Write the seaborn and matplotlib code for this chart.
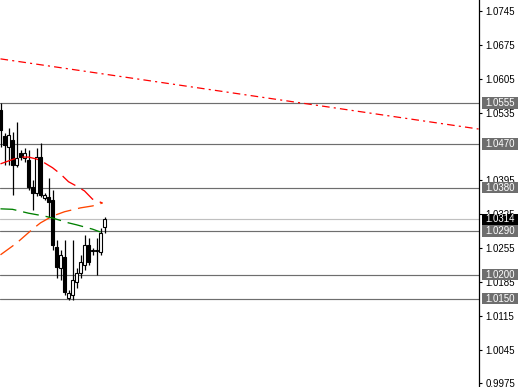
import matplotlib
matplotlib.use("Agg")
import matplotlib.pyplot as plt
import matplotlib.transforms as mtransforms
from matplotlib.patches import Rectangle
import numpy as np
import pandas as pd
import seaborn as sns

# ---------------- data ----------------
opens  = [1.0540, 1.0487, 1.0464, 1.0478, 1.0427, 1.0451, 1.0441, 1.0437, 1.0381, 1.0369,
          1.0443, 1.0358, 1.0361, 1.0354, 1.0257, 1.0214, 1.0237, 1.0152, 1.0158, 1.0185,
          1.0203, 1.0220, 1.0261, 1.0249, 1.0249, 1.0247, 1.0298]
highs  = [1.0555, 1.0493, 1.0503, 1.0495, 1.0516, 1.0458, 1.0462, 1.0458, 1.0396, 1.0462,
          1.0472, 1.0369, 1.0400, 1.0375, 1.0272, 1.0251, 1.0272, 1.0168, 1.0272, 1.0214,
          1.0241, 1.0282, 1.0276, 1.0255, 1.0276, 1.0296, 1.0319]
lows   = [1.0464, 1.0427, 1.0427, 1.0365, 1.0423, 1.0437, 1.0433, 1.0375, 1.0334, 1.0363,
          1.0361, 1.0354, 1.0319, 1.0251, 1.0193, 1.0189, 1.0158, 1.0148, 1.0148, 1.0172,
          1.0193, 1.0210, 1.0220, 1.0241, 1.0199, 1.0241, 1.0286]
closes = [1.0499, 1.0468, 1.0489, 1.0427, 1.0441, 1.0443, 1.0451, 1.0381, 1.0369, 1.0443,
          1.0365, 1.0365, 1.0350, 1.0261, 1.0216, 1.0241, 1.0164, 1.0162, 1.0189, 1.0203,
          1.0226, 1.0261, 1.0226, 1.0250, 1.0251, 1.0286, 1.0314]

red_x   = [0, 2, 4, 5, 7, 9, 11, 13, 15, 17, 19, 21, 23, 25.5]
red_y   = [1.0429, 1.0435, 1.0441, 1.0443, 1.0443, 1.0439, 1.0431, 1.0421, 1.0408,
           1.0392, 1.0383, 1.0373, 1.0356, 1.0348]
orange_x = [0, 4, 8, 10, 13, 16, 20, 23, 25.5]
orange_y = [1.0241, 1.0265, 1.0294, 1.0307, 1.0321, 1.0330, 1.0338, 1.0342, 1.0348]
green_x = [0, 3, 7, 11, 13, 17, 19, 23, 25]
green_y = [1.0336, 1.0335, 1.0327, 1.0321, 1.0317, 1.0307, 1.0303, 1.0294, 1.0288]

trend_x = [0, 119.5]
trend_y = [1.0646, 1.0501]

level_vals   = [1.0555, 1.0470, 1.0380, 1.0290, 1.0200, 1.0150]
level_labels = ["1.0555", "1.0470", "1.0380", "1.0290", "1.0200", "1.0150"]
current_price = 1.0314
current_label = "1.0314"

tick_vals   = [1.0745, 1.0675, 1.0605, 1.0535, 1.0395, 1.0325, 1.0255, 1.0185, 1.0115, 1.0045, 0.9975]
tick_labels = ["1.0745", "1.0675", "1.0605", "1.0535", "1.0395", "1.0325", "1.0255", "1.0185",
               "1.0115", "1.0045", "0.9975"]

# ---------------- style ----------------
sns.set_style("white")
plt.rcParams['font.family'] = ['Liberation Sans', 'DejaVu Sans']
plt.rcParams['lines.scale_dashes'] = False

W, H = 520, 387
fig = plt.figure(figsize=(W / 100, H / 100), dpi=100)
ax_right_px = 479
ax = fig.add_axes([0, 0, ax_right_px / W, 1])
ax.set_facecolor("white")

ymin, ymax = 0.99677, 1.07677
ax.set_ylim(ymin, ymax)
ax.set_xlim(-0.125, 119.6)

# horizontal levels
for v in level_vals:
    ax.axhline(v, color="#6e6e6e", lw=0.85, zorder=1)
ax.axhline(current_price, color="#c0c0c0", lw=0.85, zorder=1)

# trend line (dash-dot)
sns.lineplot(x=trend_x, y=trend_y, ax=ax, color="#ff0000", lw=0.9,
             linestyle=(0, (5.5, 3.0, 1.5, 3.0)), errorbar=None, zorder=2)

# candles
idx = np.arange(len(opens))
o = np.array(opens); c = np.array(closes); hi = np.array(highs); lo = np.array(lows)
ax.vlines(idx, lo, hi, color="black", lw=0.9, zorder=3)
bull = c >= o
ax.bar(idx[bull], (c - o)[bull], bottom=o[bull], width=0.55, color="white",
       edgecolor="black", linewidth=0.8, zorder=4)
ax.bar(idx[~bull], (o - c)[~bull], bottom=c[~bull], width=0.55, color="black",
       edgecolor="black", linewidth=0.8, zorder=4)

# moving-average style lines
dash = (0, (11.5, 5.0))
sns.lineplot(x=red_x, y=red_y, ax=ax, color="#ff0000", lw=0.95, linestyle=dash,
             errorbar=None, sort=False, zorder=5)
sns.lineplot(x=orange_x, y=orange_y, ax=ax, color="#ff4500", lw=0.95, linestyle=dash,
             errorbar=None, sort=False, zorder=5)
sns.lineplot(x=green_x, y=green_y, ax=ax, color="#008000", lw=0.95, linestyle=dash,
             errorbar=None, sort=False, zorder=5)

# axes / ticks
for s in ["top", "left", "bottom"]:
    ax.spines[s].set_visible(False)
ax.spines["right"].set_visible(True)
ax.spines["right"].set_color("black")
ax.spines["right"].set_linewidth(0.9)
ax.set_xticks([])
ax.yaxis.tick_right()
ax.set_yticks(tick_vals)
ax.set_yticklabels(tick_labels)
ax.tick_params(axis="y", direction="out", length=2.5, width=0.8, pad=2.2,
               labelsize=7, colors="black", right=True, left=False)
ax.set_xlabel(""); ax.set_ylabel("")
if ax.get_legend():
    ax.get_legend().remove()

# label boxes
trans = mtransforms.blended_transform_factory(fig.transFigure, ax.transData)
box_h = 11.3 * (ymax - ymin) / H
box_x0 = 481.7 / W
box_w = 36.5 / W
def label_box(v, txt, fc):
    ax.add_patch(Rectangle((box_x0, v - box_h / 2), box_w, box_h, transform=trans,
                           facecolor=fc, edgecolor="none", clip_on=False, zorder=10))
    ax.text(485.5 / W, v, txt, transform=trans, color="white", fontsize=7,
            ha="left", va="center", clip_on=False, zorder=11)

for v, t in zip(level_vals, level_labels):
    label_box(v, t, "#6e6e6e")
label_box(current_price, current_label, "#000000")

fig.savefig("out.png", dpi=100)
